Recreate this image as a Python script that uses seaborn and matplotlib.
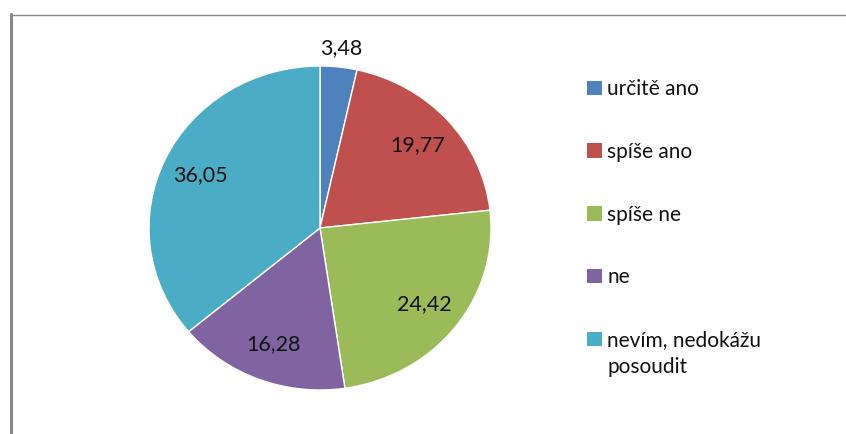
import matplotlib.pyplot as plt
import seaborn as sns
from matplotlib.patches import Rectangle
from matplotlib.lines import Line2D
import numpy as np

# data
categories = ['určitě ano', 'spíše ano', 'spíše ne', 'ne', 'nevím, nedokážu\nposoudit']
values = [3.48, 19.77, 24.42, 16.28, 36.05]
colors = ['#4F81BD', '#C0504D', '#9BBB59', '#8064A2', '#4BACC6']

sns.set_style('white')
plt.rcParams['font.family'] = ['Lato', 'DejaVu Sans']

fig = plt.figure(figsize=(8.46, 4.34), dpi=100)

# chart frame (left and top edge visible, rest cropped)
fig.add_artist(Line2D([10.5 / 846, 10.5 / 846], [0, 1 - 14 / 434], color='#888888', lw=2.2,
                      transform=fig.transFigure))
fig.add_artist(Line2D([10 / 846, 1], [1 - 14.5 / 434, 1 - 14.5 / 434], color='#888888', lw=1.0,
                      transform=fig.transFigure))

# pie axes (slightly elliptic like the original)
ax = fig.add_axes([149 / 846, 1 - 390 / 434, 342 / 846, 324 / 434])
wedges, texts, autotexts = ax.pie(values, colors=colors, startangle=90, counterclock=False,
                                  autopct=lambda p: f'{p:.2f}'.replace('.', ','),
                                  pctdistance=0.77, radius=1.0,
                                  textprops={'fontsize': 15.5, 'color': '#111111'})
ax.set_aspect('auto')
ax.set_xlim(-1, 1)
ax.set_ylim(-1, 1)

# small first slice: label outside
w = wedges[0]
mid = np.deg2rad((w.theta1 + w.theta2) / 2)
autotexts[0].set_position((1.12 * np.cos(mid), 1.12 * np.sin(mid)))

# legend - wrapped labels: marker goes with the first line, like Excel does
first_lines = [c.split('\n')[0] for c in categories]
handles = [Rectangle((0, 0), 1, 1, facecolor=c, edgecolor='none') for c in colors]
leg = fig.legend(handles, first_lines, loc='upper left', bbox_to_anchor=(579 / 846, 1 - 71 / 434),
                 frameon=False, fontsize=15, handlelength=0.7, handleheight=0.7,
                 handletextpad=0.25, labelspacing=2.05, borderaxespad=0)
for t in leg.get_texts():
    t.set_color('#111111')

fig.canvas.draw()
for t, c in zip(leg.get_texts(), categories):
    rest = c.split('\n')[1:]
    if rest:
        x, y = t.get_transform().transform(t.get_position())
        fx, fy = fig.transFigure.inverted().transform((x, y - 27))
        fig.text(fx, fy, '\n'.join(rest), fontsize=15, color='#111111', va='baseline', ha='left')

fig.savefig('out.png', dpi=100)
